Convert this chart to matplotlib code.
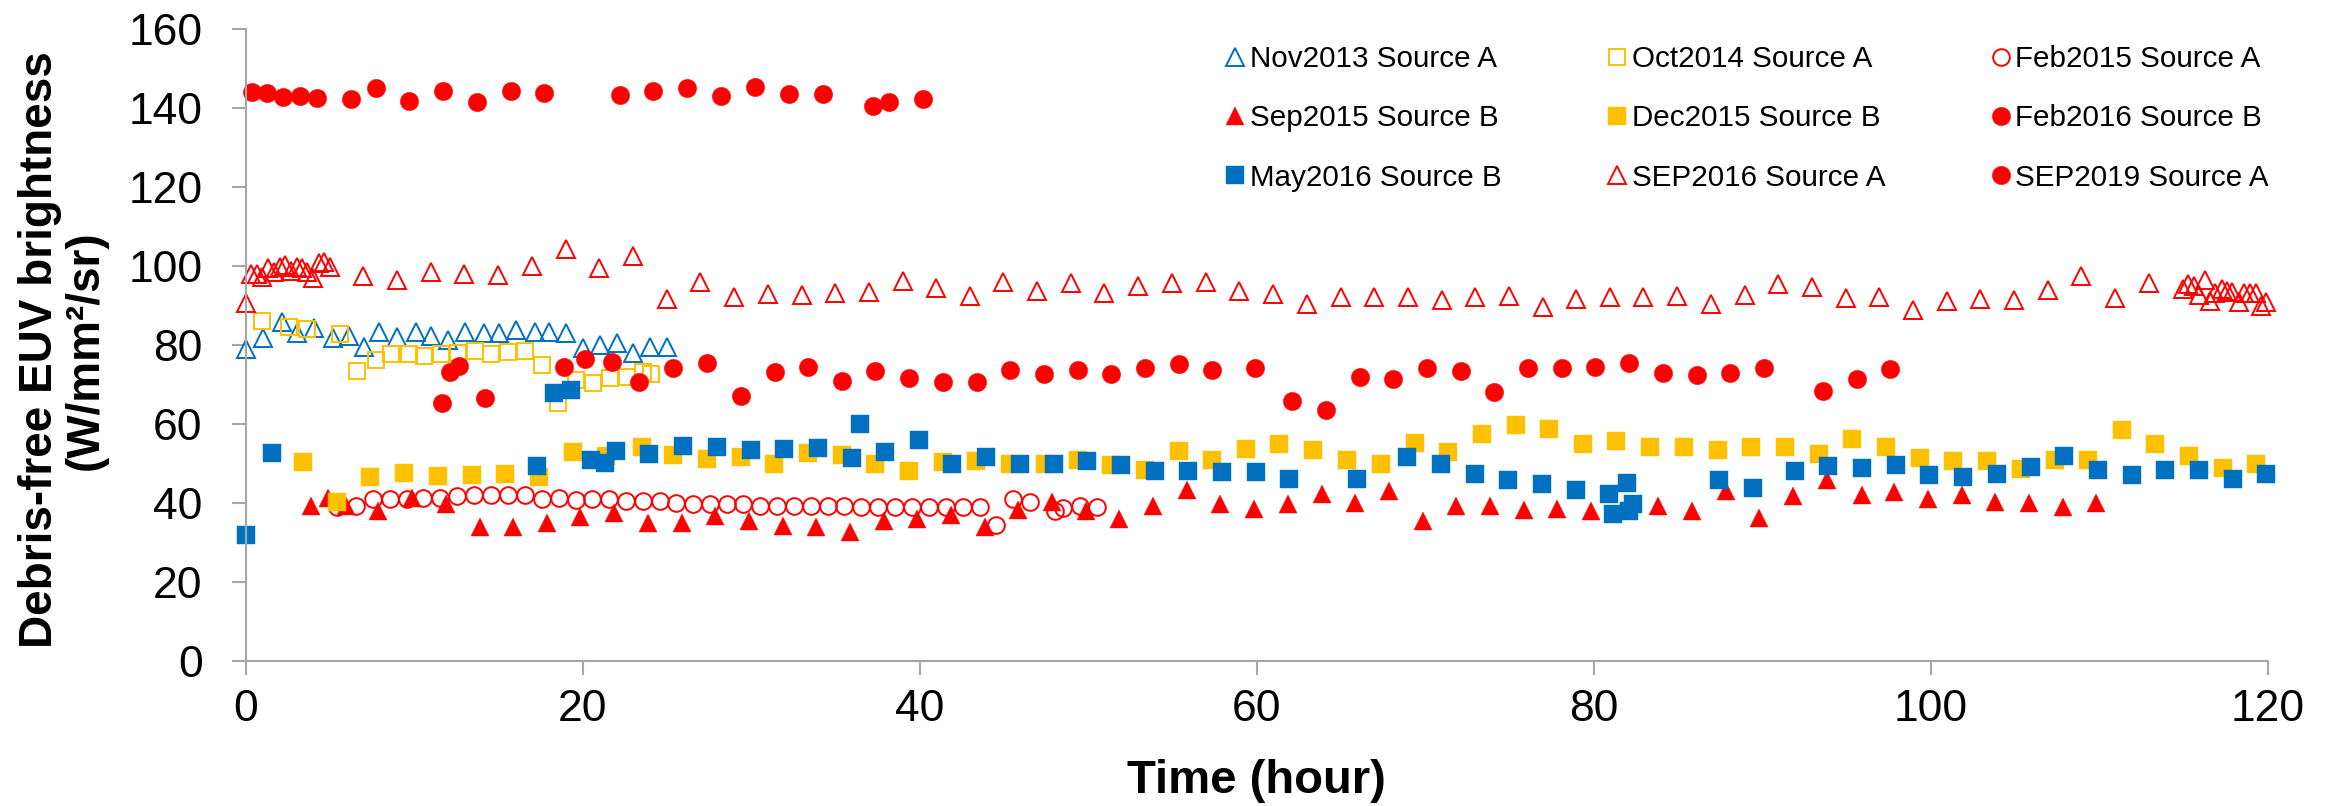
import matplotlib
matplotlib.use("Agg")
import matplotlib.pyplot as plt

plt.rcParams['font.family'] = ['Liberation Sans', 'DejaVu Sans']

RED = '#FF0000'
BLUE = '#0070C0'
GOLD = '#FFC000'
AXIS_GREY = '#A6A6A6'

# brightness runs, time in hours / brightness in W/mm2/sr
nov2013_t = [0, 1.05, 2.17, 3.02, 4.05, 5.2, 6.13, 7.02, 7.89, 9.0, 10.09, 11.02, 12.03, 13.03,
             14.16, 15.01, 16.02, 17.17, 18.02, 19.01, 20.0, 21.03, 22.02, 23.0, 24.0, 25.02]
nov2013_v = [78.9, 81.7, 85.9, 83.0, 84.2, 81.9, 82.3, 79.6, 83.2, 82.1, 83.2, 82.3, 81.3, 83.4,
             83.0, 83.0, 83.8, 83.2, 83.2, 83.0, 79.2, 80.0, 80.4, 78.1, 79.6, 79.6]

oct2014_t = [0.97, 2.59, 3.62, 5.6, 6.59, 7.71, 8.6, 9.69, 10.58, 11.57, 12.6, 13.59, 14.54,
             15.57, 16.6, 17.57, 18.55, 19.6, 20.59, 21.62, 22.61, 23.6, 24.05]
oct2014_v = [86.0, 84.6, 84.0, 82.7, 73.5, 76.2, 77.7, 77.7, 77.2, 77.7, 78.1, 78.6, 77.7,
             78.3, 78.6, 74.9, 65.2, 71.1, 70.3, 71.7, 72.0, 73.2, 72.7]

feb2015_t = [5.4, 6.55, 7.57, 8.58, 9.55, 10.54, 11.55, 12.56, 13.57, 14.56, 15.57, 16.56,
             17.57, 18.58, 19.58, 20.57, 21.56, 22.57, 23.56, 24.57, 25.56, 26.56, 27.56, 28.55,
             29.53, 30.52, 31.55, 32.56, 33.53, 34.54, 35.53, 36.53, 37.54, 38.53, 39.54, 40.55,
             41.56, 42.55, 43.56, 44.53, 45.56, 46.55, 48.03, 48.52, 49.51, 50.54]
feb2015_v = [39.1, 39.3, 41.0, 41.0, 41.0, 41.3, 41.3, 41.8, 42.0, 42.0, 42.0, 42.0,
             41.0, 41.3, 40.8, 41.0, 41.0, 40.6, 40.6, 40.6, 39.9, 39.7, 39.7, 39.7,
             39.7, 39.2, 39.2, 39.2, 39.2, 39.2, 39.2, 39.1, 39.1, 39.1, 39.1, 39.1,
             39.1, 39.1, 39.1, 34.5, 41.0, 40.3, 38.1, 38.7, 39.2, 39.1]

sep2015_t = [3.88, 4.9, 5.95, 7.87, 9.89, 11.87, 13.89, 15.88, 17.86, 19.86,
             21.88, 23.88, 25.88, 27.87, 29.87, 31.87, 33.85, 35.86, 37.86, 39.86,
             41.86, 43.86, 45.85, 47.85, 49.85, 51.85, 53.86, 55.85, 57.84, 59.86,
             61.86, 63.86, 65.85, 67.85, 69.85, 71.85, 73.85, 75.85, 77.84, 79.84,
             81.84, 83.83, 85.83, 87.83, 89.83, 91.83, 93.85, 95.9, 97.84, 99.84,
             101.84, 103.84, 105.83, 107.83, 109.81]
sep2015_v = [39.2, 41.2, 39.2, 38.0, 41.3, 39.7, 33.8, 33.8, 35.0, 36.5,
             37.4, 35.0, 35.0, 36.6, 35.5, 34.2, 33.8, 32.6, 35.5, 36.0,
             36.9, 33.8, 38.2, 40.3, 38.1, 36.0, 39.2, 43.2, 39.7, 38.5,
             39.7, 42.2, 40.1, 43.1, 35.4, 39.3, 39.2, 38.2, 38.6, 38.1,
             38.5, 39.3, 38.1, 43.1, 36.3, 41.8, 45.7, 41.9, 42.7, 40.9,
             42.0, 40.3, 40.0, 39.1, 40.0]

dec2015_t = [3.42, 5.4, 7.4, 9.41, 11.43, 13.41, 15.41, 17.42, 19.41, 21.38, 23.5, 25.38, 27.4,
             29.41, 31.35, 33.39, 35.41, 37.37, 39.38, 41.4, 43.36, 45.38, 47.45, 49.41, 51.37,
             53.39, 55.41, 57.37, 59.38, 61.34, 63.36, 65.38, 67.4, 69.41, 71.37, 73.39, 75.37,
             77.36, 79.38, 81.34, 83.36, 85.38, 87.39, 89.35, 91.37, 93.39, 95.35, 97.37, 99.38,
             101.34, 103.36, 105.38, 107.39, 109.36, 111.38, 113.33, 115.35, 117.37, 119.33]
dec2015_v = [50.3, 40.2, 46.5, 47.5, 46.8, 47.0, 47.3, 46.7, 52.8, 51.9, 54.1, 52.2, 51.1,
             51.6, 50.0, 52.6, 52.1, 49.8, 48.0, 50.3, 50.6, 49.8, 50.0, 50.8, 49.5,
             48.3, 53.1, 50.9, 53.6, 54.9, 53.4, 50.9, 50.0, 55.1, 52.8, 57.4, 59.7,
             58.7, 54.9, 55.6, 54.1, 54.1, 53.3, 54.1, 54.3, 52.3, 56.1, 54.1, 51.3,
             50.6, 50.6, 48.5, 50.8, 50.8, 58.4, 54.9, 51.9, 48.8, 49.8]

feb2016_t = [11.63, 12.12, 12.64, 14.22, 18.89, 20.14, 21.74, 23.36, 25.38, 27.4,
             29.38, 31.39, 33.39, 35.39, 37.37, 39.38, 41.38, 43.38, 45.38, 47.38,
             49.38, 51.37, 53.37, 55.37, 57.37, 59.88, 62.11, 64.11, 66.13, 68.11,
             70.11, 72.11, 74.1, 76.12, 78.12, 80.1, 82.11, 84.1, 86.11, 88.11,
             90.11, 93.61, 95.61, 97.6]
feb2016_v = [65.2, 73.2, 74.7, 66.7, 74.5, 76.5, 75.6, 70.7, 74.3, 75.5,
             67.1, 73.2, 74.5, 70.9, 73.5, 71.6, 70.6, 70.7, 73.7, 72.6,
             73.6, 72.7, 74.1, 75.1, 73.7, 74.1, 65.9, 63.5, 71.8, 71.3,
             74.1, 73.5, 68.0, 74.3, 74.3, 74.5, 75.5, 72.8, 72.4, 72.8,
             74.3, 68.3, 71.5, 73.9]

may2016_t = [0, 1.54, 17.31, 18.32, 19.31, 20.49, 21.34, 21.99, 23.95, 25.97,
             27.99, 30.01, 31.97, 33.98, 36.0, 36.48, 37.96, 39.98, 41.93, 43.95,
             45.97, 47.99, 49.95, 51.96, 53.98, 55.94, 57.96, 59.98, 61.93, 65.97,
             68.94, 70.96, 72.97, 74.93, 76.95, 78.97, 80.93, 81.13, 81.96, 82.11,
             82.35, 87.45, 89.47, 91.96, 93.92, 95.94, 97.96, 99.92, 101.93, 103.95,
             105.97, 107.93, 109.95, 111.97, 113.92, 115.94, 117.96, 119.92]
may2016_v = [31.8, 52.6, 49.4, 67.9, 68.6, 50.9, 50.2, 53.2, 52.4, 54.4,
             54.2, 53.3, 53.6, 53.8, 51.3, 59.9, 52.8, 55.9, 49.8, 51.6,
             49.8, 49.8, 50.6, 49.5, 48.0, 48.0, 47.8, 47.8, 46.2, 46.2,
             51.6, 49.8, 47.3, 45.9, 44.7, 43.2, 42.4, 37.1, 45.0, 38.1,
             39.7, 45.9, 43.7, 48.1, 49.4, 48.8, 49.6, 47.0, 46.5, 47.3,
             49.0, 51.9, 48.3, 47.0, 48.3, 48.3, 46.2, 47.4]

sep2016_t = [0, 0.30, 0.65, 0.95, 1.34, 1.68, 2.04, 2.33, 2.67, 3.03, 3.32, 3.66, 3.98, 4.35,
             4.67, 5.0, 6.98, 9.0, 11.0, 12.97, 14.97, 16.99, 18.99, 20.99, 22.97, 24.98,
             26.98, 28.98, 30.98, 33.0, 34.98, 36.97, 38.99, 40.99, 42.98, 44.96,
             46.98, 48.98, 50.96, 52.96, 54.97, 56.97, 58.97, 60.99, 62.99, 64.99,
             66.96, 68.96, 70.98, 72.96, 74.96, 76.97, 78.97, 80.97, 82.94, 84.96,
             86.96, 88.96, 90.96, 92.96, 94.96, 96.95, 98.95, 100.95, 102.94, 104.94,
             106.94, 108.94, 110.94, 112.94,
             115.0, 115.3, 115.6, 115.9, 116.3, 116.6, 116.9, 117.3, 117.6, 117.9,
             118.3, 118.6, 118.95, 119.3, 119.6, 119.9]
sep2016_v = [90.6, 98.1, 98.0, 97.1, 99.4, 98.6, 99.8, 100.2, 98.8, 99.8, 99.4, 98.6, 96.9, 100.7,
             101.1, 99.8, 97.5, 96.5, 98.6, 98.0, 97.7, 100.1, 104.2, 99.6, 102.6, 91.6,
             95.9, 92.2, 92.9, 92.7, 93.1, 93.3, 96.2, 94.4, 92.4, 96.0,
             93.7, 95.8, 93.2, 94.9, 95.6, 96.0, 93.7, 92.8, 90.4, 92.2,
             92.2, 92.2, 91.4, 92.2, 92.4, 89.5, 91.6, 92.1, 92.1, 92.4,
             90.5, 92.7, 95.4, 94.6, 91.8, 92.2, 88.9, 91.2, 91.6, 91.4,
             93.9, 97.5, 91.8, 95.6,
             94.1, 95.4, 94.9, 92.7, 96.5, 91.2, 93.1, 94.3, 93.7, 93.5,
             91.0, 93.1, 93.1, 93.1, 89.9, 91.0]

sep2019_t = [0.39, 1.25, 2.23, 3.22, 4.25, 6.25, 7.73, 9.72, 11.73, 13.75, 15.75, 17.72,
             22.23, 24.2, 26.21, 28.23, 30.23, 32.22, 34.24, 37.21, 38.2, 40.21]
sep2019_v = [144.1, 143.8, 142.9, 143.1, 142.6, 142.2, 145.1, 141.8, 144.3, 141.5, 144.2, 143.8,
             143.2, 144.2, 145.1, 143.0, 145.4, 143.5, 143.5, 140.6, 141.4, 142.2]

# label, times, values, marker, color, filled
series = [
    ("Nov2013 Source A", nov2013_t, nov2013_v, '^', BLUE, False),
    ("Oct2014 Source A", oct2014_t, oct2014_v, 's', GOLD, False),
    ("Feb2015 Source A", feb2015_t, feb2015_v, 'o', RED, False),
    ("Sep2015 Source B", sep2015_t, sep2015_v, '^', RED, True),
    ("Dec2015 Source B", dec2015_t, dec2015_v, 's', GOLD, True),
    ("Feb2016 Source B", feb2016_t, feb2016_v, 'o', RED, True),
    ("May2016 Source B", may2016_t, may2016_v, 's', BLUE, True),
    ("SEP2016 Source A", sep2016_t, sep2016_v, '^', RED, False),
    ("SEP2019 Source A", sep2019_t, sep2019_v, 'o', RED, True),
]
marker_size = {'^': 13.5, 's': 13.2, 'o': 13.2}

fig = plt.figure(figsize=(23.33, 8.06), dpi=100)
ax = fig.add_axes([0.1053, 0.1799, 0.8667, 0.7841])

handles = []
for label, t, v, mk, col, filled in series:
    ms = marker_size[mk]
    if filled:
        h, = ax.plot(t, v, linestyle='none', marker=mk, markersize=ms,
                     markerfacecolor=col, markeredgecolor=col, markeredgewidth=0.3,
                     clip_on=False, label=label)
    else:
        h, = ax.plot(t, v, linestyle='none', marker=mk, markersize=ms - 1.2,
                     markerfacecolor='none', markeredgecolor=col, markeredgewidth=1.4,
                     clip_on=False, label=label)
    handles.append(h)

ax.set_xlim(0, 120)
ax.set_ylim(0, 160)
ax.set_xticks(range(0, 121, 20))
ax.set_yticks(range(0, 161, 20))

for side in ('top', 'right'):
    ax.spines[side].set_visible(False)
for side in ('left', 'bottom'):
    ax.spines[side].set_color(AXIS_GREY)
    ax.spines[side].set_linewidth(1.5)

ax.tick_params(direction='out', length=10, width=1.5, color=AXIS_GREY,
               labelcolor='black', labelsize=32)
ax.tick_params(axis='y', pad=21)
ax.tick_params(axis='x', pad=10)

fig.text(0.027, 0.566, "Debris-free EUV brightness\n(W/mm\u00b2/sr)", rotation=90,
         ha='center', va='center', fontsize=33, fontweight='bold', linespacing=1.05)
fig.text(0.5385, 0.031, "Time (hour)", ha='center', va='center',
         fontsize=34, fontweight='bold')

# matplotlib fills legend columns first, so reorder to read row by row
order = [0, 3, 6, 1, 4, 7, 2, 5, 8]
fig.legend([handles[i] for i in order], [series[i][0] for i in order],
           loc='upper left', bbox_to_anchor=(0.525, 0.944), ncol=3, frameon=False,
           fontsize=21.3, handlelength=0.7, handletextpad=0.15, columnspacing=3.55,
           labelspacing=1.06, borderpad=0, borderaxespad=0, markerscale=1.0)

fig.savefig("out.png", dpi=100)
